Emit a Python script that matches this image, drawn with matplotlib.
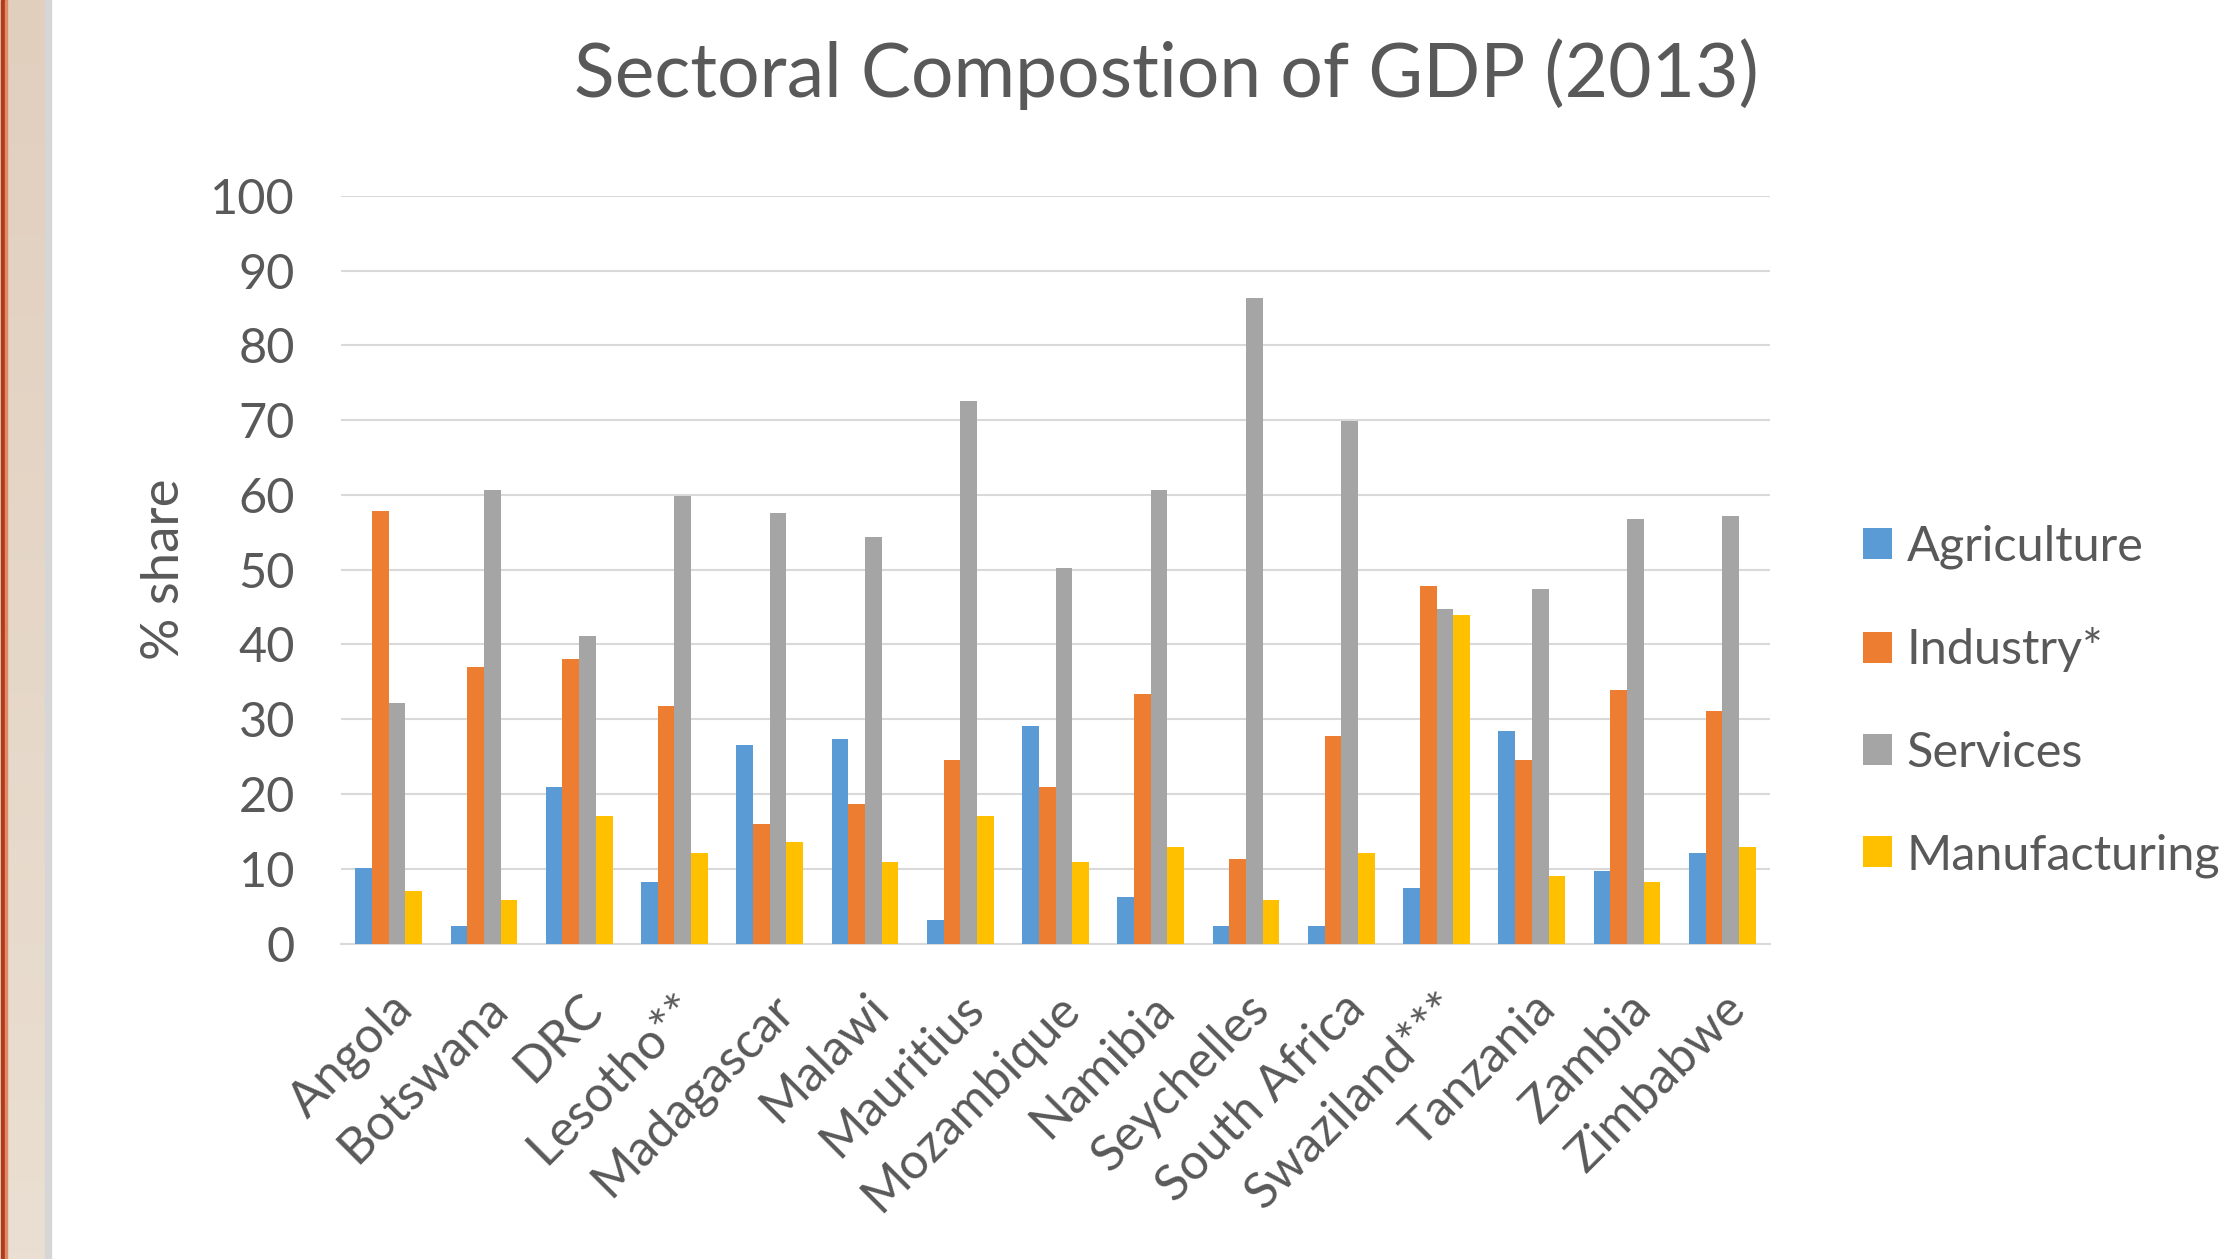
import numpy as np
import matplotlib
matplotlib.use("Agg")
import matplotlib.pyplot as plt
from matplotlib.patches import Rectangle

countries = ["Angola", "Botswana", "DRC", "Lesotho**", "Madagascar", "Malawi",
             "Mauritius", "Mozambique", "Namibia", "Seychelles", "South Africa",
             "Swaziland***", "Tanzania", "Zambia", "Zimbabwe"]

agriculture = [10.1, 2.3, 20.9, 8.2, 26.5, 27.3, 3.1, 29.1, 6.2, 2.3, 2.3, 7.4, 28.4, 9.7, 12.1]
industry = [57.8, 37.0, 38.1, 31.8, 16.0, 18.7, 24.5, 20.9, 33.4, 11.3, 27.7, 47.8, 24.5, 33.9, 31.1]
services = [32.2, 60.7, 41.2, 59.9, 57.6, 54.4, 72.6, 50.2, 60.7, 86.3, 69.9, 44.7, 47.4, 56.8, 57.2]
manufacturing = [7.0, 5.8, 17.1, 12.1, 13.6, 10.9, 17.1, 10.9, 12.9, 5.8, 12.1, 43.9, 9.1, 8.2, 12.9]

series = [("Agriculture", agriculture, "#5B9BD5"),
          ("Industry*", industry, "#ED7D31"),
          ("Services", services, "#A5A5A5"),
          ("Manufacturing", manufacturing, "#FFC000")]

plt.rcParams['font.family'] = ['Lato', 'DejaVu Sans']
txt = "#595959"

fig = plt.figure(figsize=(22.25, 12.59), dpi=100)
fig.patch.set_facecolor("white")

# left slide decoration
deco = fig.add_axes([0, 0, 45 / 2225, 1])
grad = np.linspace(0, 1, 256)[:, None]
c_top = np.array([0xe1, 0xcf, 0xbe]) / 255
c_bot = np.array([0xea, 0xdf, 0xd2]) / 255
img = c_top[None, None, :] * (1 - grad[:, :, None]) + c_bot[None, None, :] * grad[:, :, None]
deco.imshow(img, aspect="auto", extent=[0, 1, 0, 1])
deco.axis("off")
fig.patches.append(Rectangle((1 / 2225, 0), 4 / 2225, 1, transform=fig.transFigure,
                             color="#b03a1a", zorder=5))
fig.patches.append(Rectangle((5 / 2225, 0), 1.5 / 2225, 1, transform=fig.transFigure,
                             color="#e08a66", zorder=5))
fig.patches.append(Rectangle((45 / 2225, 0), 6 / 2225, 1, transform=fig.transFigure,
                             color="#d6d6d6", zorder=5))

ax = fig.add_axes([341 / 2225, 1 - 943.6 / 1259, (1770 - 341) / 2225, (943.6 - 195.8) / 1259])

x = np.arange(len(countries))
w = 0.175
for i, (name, vals, col) in enumerate(series):
    ax.bar(x + (i - 1.5) * w, vals, width=w, color=col, label=name, zorder=3)

ax.set_xlim(-0.5, len(countries) - 0.5)
ax.set_ylim(0, 100)
ax.set_yticks(range(0, 101, 10))
ax.grid(axis="y", color="#d9d9d9", linewidth=1.5, zorder=0)
for s in ["top", "right", "left"]:
    ax.spines[s].set_visible(False)
ax.spines["bottom"].set_color("#d9d9d9")
ax.spines["bottom"].set_linewidth(1.5)
ax.tick_params(axis="both", length=0, colors=txt)
ax.tick_params(axis="y", pad=33, labelsize=35)
ax.set_xticks(x)
ax.set_xticklabels(countries, rotation=45, ha="right", rotation_mode="anchor")
ax.tick_params(axis="x", pad=30, labelsize=36)

ax.set_ylabel("% share", fontsize=38, color=txt, labelpad=16)

fig.text(0.524, 0.941, "Sectoral Compostion of GDP (2013)", ha="center", va="center",
         fontsize=54, color=txt)

leg = ax.legend(loc="center left", bbox_to_anchor=(1863 / 2225, 1 - 701 / 1259),
                bbox_transform=fig.transFigure, frameon=False, fontsize=35,
                handlelength=0.6, handleheight=0.6, handletextpad=0.3,
                labelspacing=1.2, borderpad=0, borderaxespad=0)
for t in leg.get_texts():
    t.set_color(txt)

fig.savefig("out.png", dpi=100)
